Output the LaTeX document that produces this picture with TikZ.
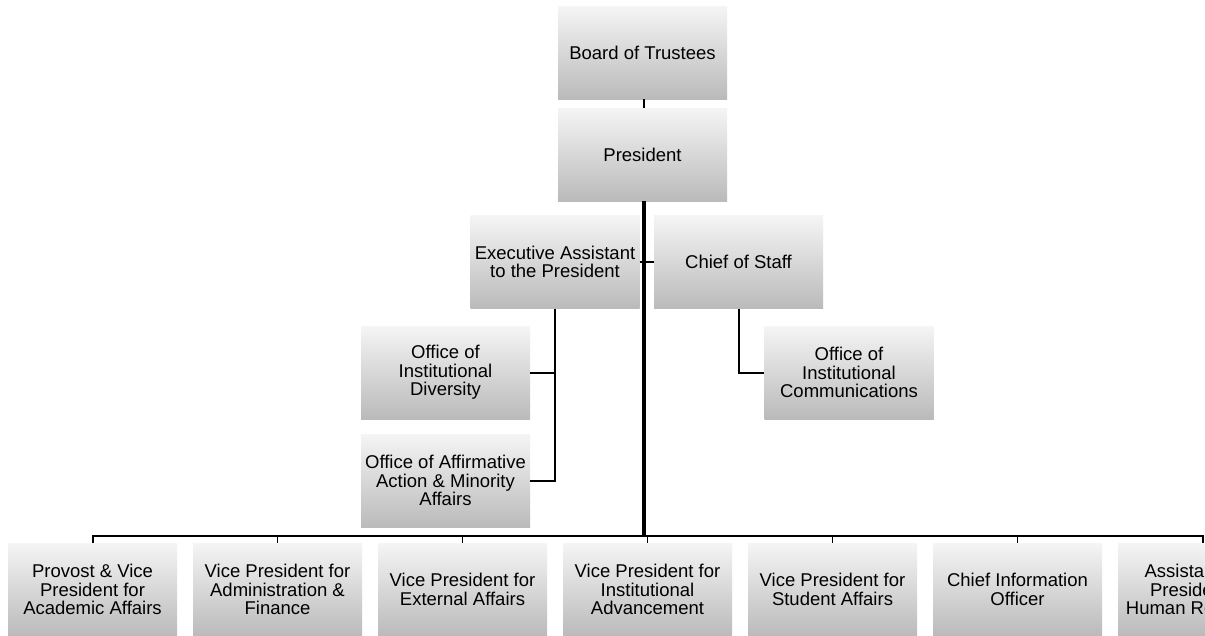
\documentclass[tikz,border=0pt]{standalone}
\usepackage{fontspec}
\setmainfont{Liberation Sans}
\tikzset{
  orgbox/.style={rectangle, minimum width=169pt, minimum height=93pt, inner sep=0pt,
    top color=black!4, bottom color=black!27, align=center,
    font=\fontsize{18.5}{18.5}\selectfont, text=black},
  thinln/.style={line width=1.4pt, black},
  midln/.style={line width=2pt, black},
  thickln/.style={line width=3.5pt, black}
}
\begin{document}
\begin{tikzpicture}[x=1pt,y=-1pt]
\clip (0,0) rectangle (1205,635);
\fill[white] (0,0) rectangle (1205,635);
% nodes
\node[orgbox] (board) at (642.5,52.5) {Board of Trustees};
\node[orgbox] (pres) at (642.5,154.5) {President};
\node[orgbox] (exec) at (555,262) {Executive Assistant\\to the President};
\node[orgbox] (chief) at (738.5,262) {Chief of Staff};
\node[orgbox] (div) at (445.5,372.5) {Office of\\Institutional\\Diversity};
\node[orgbox] (aa) at (445.5,480.5) {Office of Affirmative\\Action \& Minority\\Affairs};
\node[orgbox] (comm) at (849,372.5) {Office of\\Institutional\\Communications};
\node[orgbox] (b1) at (92.5,589.5) {Provost \& Vice\\President for\\Academic Affairs};
\node[orgbox] (b2) at (277.5,589.5) {Vice President for\\Administration \&\\Finance};
\node[orgbox] (b3) at (462.5,589.5) {Vice President for\\External Affairs};
\node[orgbox] (b4) at (647.5,589.5) {Vice President for\\Institutional\\Advancement};
\node[orgbox] (b5) at (832.5,589.5) {Vice President for\\Student Affairs};
\node[orgbox] (b6) at (1017.5,589.5) {Chief Information\\Officer};
\node[orgbox] (b7) at (1202.5,589.5) {Assistant Vice\\President for\\Human Resources};
\coordinate (bus) at (644,536);
% connectors
\draw[thinln] (board.south -| bus) -- (pres.north -| bus);
\draw[thinln] (exec.east) -- (chief.west);
\draw[midln] (exec.south) |- (aa.east);
\draw[midln] (div.east) -- (div.east -| exec.south);
\draw[midln] (chief.south) |- (comm.west);
\draw[midln] (b1.north) |- (bus) -| (b7.north);
\foreach \b in {b2,b3,b4,b5,b6}{
  \draw[thinln] (\b.north) -- (\b.north |- bus);
}
\draw[thickln] (pres.south -| bus) -- (bus);
\end{tikzpicture}
\end{document}
